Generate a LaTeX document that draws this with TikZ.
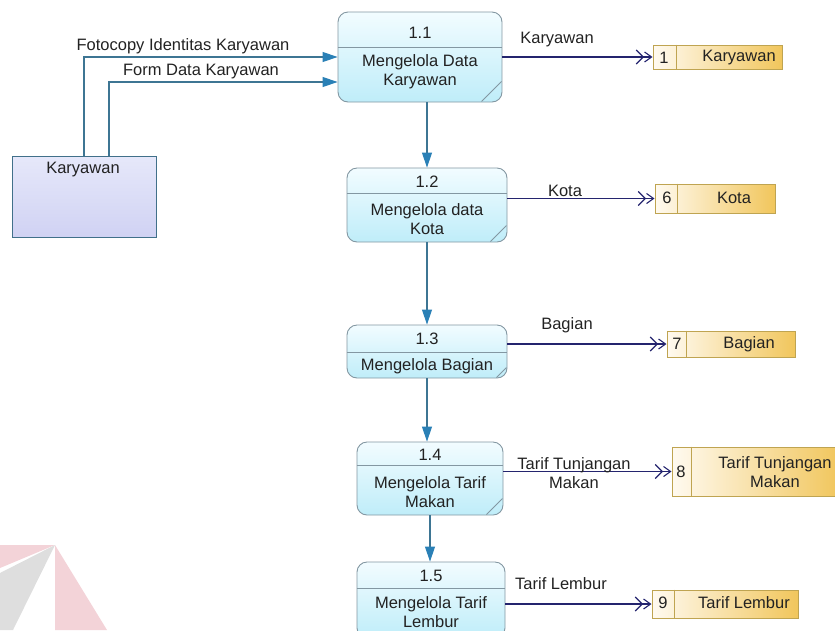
\documentclass[tikz,border=0pt]{standalone}
\usepackage{fontspec}
\setmainfont{Liberation Sans}
\usetikzlibrary{arrows.meta,calc}

\definecolor{txt}{HTML}{222222}
\definecolor{procline}{HTML}{8397A2}
\definecolor{proctop}{HTML}{F2FCFF}
\definecolor{procbot}{HTML}{BFEDF9}
\definecolor{entline}{HTML}{41708A}
\definecolor{enttop}{HTML}{E6E8FA}
\definecolor{entbot}{HTML}{D0D2F3}
\definecolor{storeline}{HTML}{BFA451}
\definecolor{storeleft}{HTML}{FFFAF0}
\definecolor{storeright}{HTML}{F1C65C}
\definecolor{inline}{HTML}{3D7593}
\definecolor{inhead}{HTML}{2A80B6}
\definecolor{navy}{HTML}{24246E}
\definecolor{wmpink}{HTML}{F3D3D8}
\definecolor{wmgrey}{HTML}{DEDEDE}

\begin{document}
\begin{tikzpicture}[x=1pt,y=-1pt,
  every node/.style={font=\fontsize{16.5}{19}\selectfont, text=txt, inner sep=0pt},
  proc/.style={draw=procline, line width=0.9pt, rounded corners=10pt,
    top color=proctop, bottom color=procbot},
  procline/.style={draw=procline, line width=0.9pt},
  entity/.style={draw=entline, line width=1pt, top color=enttop, bottom color=entbot},
  store/.style={draw=storeline, line width=1pt, left color=storeleft, right color=storeright},
  storediv/.style={draw=storeline, line width=1pt},
  inflow/.style={draw=inline, line width=1.1pt,
    -{Triangle[length=15pt,width=10pt,color=inhead]}},
  dflow/.style={draw=navy, line width=1.1pt,
    -{Straight Barb[length=7pt,width=14pt]Straight Barb[length=7pt,width=10pt]}},
  lbl/.style={align=center}
]
\useasboundingbox (0,0) rectangle (835,630);
\clip (0,0) rectangle (835,630);

% faint logo shapes in the lower left corner
\fill[wmpink] (0,545) -- (55,545) -- (0,568) -- cycle;
\fill[wmgrey] (55,545) -- (0,573) -- (0,630) -- (13,630) -- cycle;
\fill[wmpink] (55,545) -- (55,630) -- (107,630) -- cycle;

% external entity
\node[entity, minimum width=144pt, minimum height=81pt] (e) at (84,196.5) {};
\node (et) at (83,170) {Karyawan};

% processes
\node[proc, minimum width=164pt, minimum height=90pt] (p11) at (420,57) {};
\node[proc, minimum width=160pt, minimum height=74pt] (p12) at (427,205) {};
\node[proc, minimum width=160pt, minimum height=53pt] (p13) at (427,351.5) {};
\node[proc, minimum width=146pt, minimum height=73pt] (p14) at (430,478.5) {};
\node[proc, minimum width=148pt, minimum height=76pt] (p15) at (431,600) {};

% process dividers and corner marks
\draw[procline] ($(p11.north west)+(0,36)$) -- ($(p11.north east)+(0,36)$);
\draw[procline] ($(p12.north west)+(0,26)$) -- ($(p12.north east)+(0,26)$);
\draw[procline] ($(p13.north west)+(0,28)$) -- ($(p13.north east)+(0,28)$);
\draw[procline] ($(p14.north west)+(0,24)$) -- ($(p14.north east)+(0,24)$);
\draw[procline] ($(p15.north west)+(0,27)$) -- ($(p15.north east)+(0,27)$);
\draw[procline] ($(p11.south east)+(-1,-21)$) -- ($(p11.south east)+(-21,-1)$);
\draw[procline] ($(p12.south east)+(-1,-17)$) -- ($(p12.south east)+(-17,-1)$);
\draw[procline] ($(p13.south east)+(-1,-11)$) -- ($(p13.south east)+(-11,-1)$);
\draw[procline] ($(p14.south east)+(-1,-17)$) -- ($(p14.south east)+(-17,-1)$);

% process texts
\node (p11n) at (420,33) {1.1};
\node[lbl] (p11t) at (420,72) {Mengelola Data\\Karyawan};
\node (p12n) at (427,182) {1.2};
\node[lbl] (p12t) at (427,219) {Mengelola data\\Kota};
\node (p13n) at (427,339) {1.3};
\node (p13t) at (427,366) {Mengelola Bagian};
\node (p14n) at (430,455) {1.4};
\node[lbl] (p14t) at (430,492) {Mengelola Tarif\\Makan};
\node (p15n) at (431,576) {1.5};
\node[lbl] (p15t) at (431,612) {Mengelola Tarif\\Lembur};

% data stores
\node[store, minimum width=129pt, minimum height=24pt] (s1) at (717.5,57) {};
\node[store, minimum width=120pt, minimum height=29pt] (s6) at (715,198.5) {};
\node[store, minimum width=128pt, minimum height=26pt] (s7) at (731,344) {};
\node[store, minimum width=168pt, minimum height=49pt] (s8) at (756,471.5) {};
\node[store, minimum width=146pt, minimum height=28pt] (s9) at (725,604) {};
\draw[storediv] ($(s1.north west)+(24,0)$) -- ($(s1.south west)+(24,0)$);
\draw[storediv] ($(s6.north west)+(23,0)$) -- ($(s6.south west)+(23,0)$);
\draw[storediv] ($(s7.north west)+(20,0)$) -- ($(s7.south west)+(20,0)$);
\draw[storediv] ($(s8.north west)+(20,0)$) -- ($(s8.south west)+(20,0)$);
\draw[storediv] ($(s9.north west)+(23,0)$) -- ($(s9.south west)+(23,0)$);

\node (s1n) at (664,58) {1};
\node (s1t) at (739,58) {Karyawan};
\node (s6n) at (667,198) {6};
\node (s6t) at (734,198) {Kota};
\node (s7n) at (677,344) {7};
\node (s7t) at (749,344) {Bagian};
\node (s8n) at (681,472) {8};
\node[lbl] (s8t) at (775,472) {Tarif Tunjangan\\Makan};
\node (s9n) at (663,603) {9};
\node (s9t) at (744,603) {Tarif Lembur};

% flows from the external entity
\draw[inflow] (e.north) |- (p11.west);
\draw[inflow] ([xshift=25pt]e.north) |- ([yshift=-25pt]p11.west);
\node (l1) at (183,46) {Fotocopy Identitas Karyawan};
\node (l2) at (201,72) {Form Data Karyawan};

% flows between processes
\draw[inflow] (p12.north |- p11.south) -- (p12.north);
\draw[inflow] (p12.south) -- (p13.north);
\draw[inflow] (p13.south) -- (p13.south |- p14.north);
\draw[inflow] (p14.south) -- (p14.south |- p15.north);

% flows into data stores
\draw[dflow] (p11.east |- s1.west) -- (s1.west);
\draw[dflow] (p12.east |- s6.west) -- (s6.west);
\draw[dflow] (p13.east |- s7.west) -- (s7.west);
\draw[dflow] (p14.east |- s8.west) -- (s8.west);
\draw[dflow] (p15.east |- s9.west) -- (s9.west);
\node (d1) at (557,40) {Karyawan};
\node (d6) at (565,191) {Kota};
\node (d7) at (567,325) {Bagian};
\node[lbl] (d8) at (574,473) {Tarif Tunjangan\\Makan};
\node (d9) at (561,584) {Tarif Lembur};
\end{tikzpicture}
\end{document}
